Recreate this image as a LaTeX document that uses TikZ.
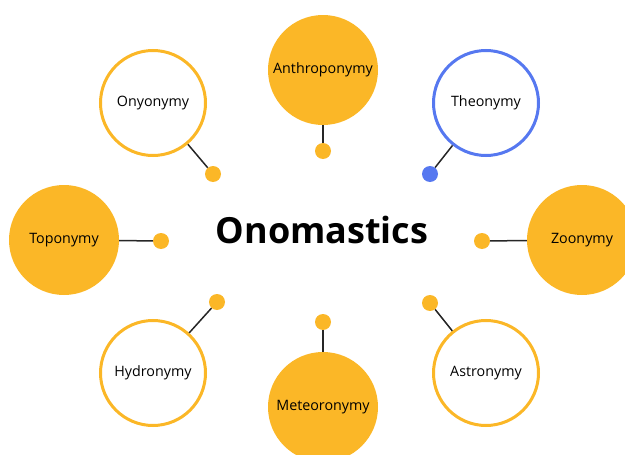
\documentclass[tikz,border=0pt]{standalone}
\usepackage{fontspec}
\setmainfont{Open Sans}
\definecolor{accent}{RGB}{251,183,39}
\definecolor{theoblue}{RGB}{86,120,240}
\tikzset{
  bubble/.style={circle, inner sep=0pt, text=black, font=\fontsize{14.3}{16}\selectfont},
  full/.style={bubble, fill=accent, minimum size=110pt},
  ring/.style={bubble, draw=accent, fill=white, line width=3pt, minimum size=105pt},
  dot/.style={circle, fill=accent, inner sep=0pt, minimum size=16pt},
  link/.style={draw=black!85, line width=1.5pt}
}

\begin{document}
\begin{tikzpicture}[x=1pt, y=-1pt]
  \useasboundingbox (0,0) rectangle (625,455);

  % centre title
  \node (title) at (322,230) {\fontsize{36}{42}\selectfont\bfseries Onomastics};

  % bubbles
  \node[full] (anthro) at (323,70) {Anthroponymy};
  \node[ring] (onyo) at (153,103) {Onyonymy};
  \node[ring, draw=theoblue] (theo) at (486,103) {Theonymy};
  \node[full] (topo) at (64,240) {Toponymy};
  \node[full] (zoo) at (582,240) {Zoonymy};
  \node[ring] (hydro) at (153,373) {Hydronymy};
  \node[full] (meteo) at (323,407) {Meteoronymy};
  \node[ring] (astro) at (486,373) {Astronymy};

  % dots
  \node[dot] (d-anthro) at (323,151) {};
  \node[dot] (d-onyo) at (213,174) {};
  \node[dot, fill=theoblue] (d-theo) at (430,174) {};
  \node[dot] (d-topo) at (161,241) {};
  \node[dot] (d-zoo) at (482,241) {};
  \node[dot] (d-hydro) at (217,302) {};
  \node[dot] (d-meteo) at (323,322) {};
  \node[dot] (d-astro) at (430,303) {};

  % links
  \foreach \n in {anthro, onyo, theo, topo, zoo, hydro, meteo, astro}
    \draw[link] (\n) -- (d-\n);
\end{tikzpicture}
\end{document}
